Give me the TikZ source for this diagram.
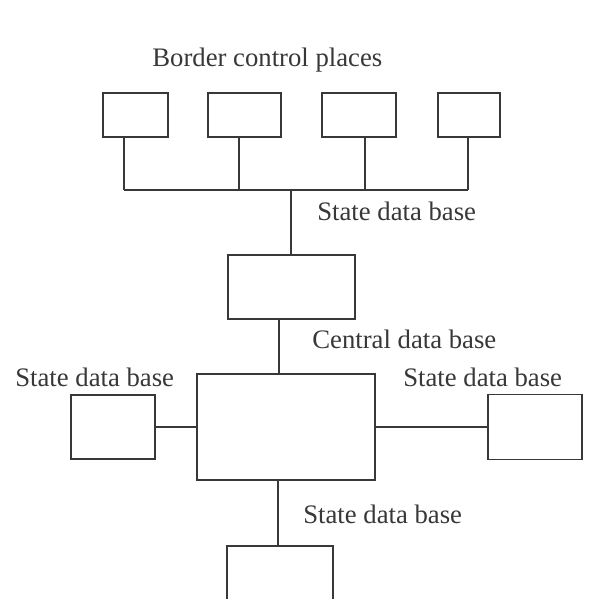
\documentclass[tikz,border=0pt]{standalone}
\usepackage{fontspec}
\setmainfont{Liberation Serif}
\definecolor{ink}{gray}{0.22}
\tikzstyle{place} = [rectangle, draw=ink, line width=1.1pt, inner sep=0pt, minimum height=0.88cm]
\tikzstyle{database} = [rectangle, draw=ink, line width=1.1pt, inner sep=0pt]
\tikzstyle{dbtext} = [anchor=base west, inner sep=0pt, text=ink, font=\fontsize{15.2}{18}\selectfont]
\tikzstyle{line} = [draw=ink, line width=1.1pt]
\begin{document}
\begin{tikzpicture}[x=0.02cm,y=-0.02cm]

\clip (0,0) rectangle (604,598);
\fill[white] (0,0) rectangle (604,598);

	%Border control places on top
	\node[place, minimum width=1.30cm](BCP1) at (135.5,115) {};
	\node[place, minimum width=1.46cm](BCP2) at (244.5,115) {};
	\node[place, minimum width=1.48cm](BCP3) at (359,115) {};
	\node[place, minimum width=1.24cm](BCP4) at (469,115) {};

	%Data bases
	\node[database, minimum width=2.54cm, minimum height=1.28cm](Top) at (291.5,287) {};
	\node[database, minimum width=3.56cm, minimum height=2.12cm](Central) at (286,427) {};
	\node[database, minimum width=1.68cm, minimum height=1.28cm](West) at (113,427) {};
	\node[database, minimum width=1.88cm, minimum height=1.30cm](East) at (535,427) {};
	\node[database, minimum width=2.12cm, minimum height=1.88cm](South) at (280,593) {};

	%Bus below the border control places
	\coordinate (B1) at (124,190);
	\coordinate (B2) at (239,190);
	\coordinate (B3) at (365,190);
	\coordinate (B4) at (468,190);
	\coordinate (B0) at (291,190);
	\path[line] (B1) -- (B4);
	\path[line] (B1 |- BCP1.south) -- (B1);
	\path[line] (B2 |- BCP2.south) -- (B2);
	\path[line] (B3 |- BCP3.south) -- (B3);
	\path[line] (B4 |- BCP4.south) -- (B4);
	\path[line] (B0) -- (B0 |- Top.north);

	%Connections of the central data base
	\coordinate (C1) at (279,0);
	\coordinate (C2) at (278,0);
	\path[line] (C1 |- Top.south) -- (C1 |- Central.north);
	\path[line] (West.east) -- (Central.west);
	\path[line] (Central.east) -- (East.west);
	\path[line] (C2 |- Central.south) -- (C2 |- South.north);

	%Texts
	\node[dbtext](BCPText) at (152,67) {Border control places};
	\node[dbtext](TopText) at (317,220) {State data base};
	\node[dbtext](CentralText) at (312,348) {Central data base};
	\node[dbtext](WestText) at (15,386) {State data base};
	\node[dbtext](EastText) at (403,386) {State data base};
	\node[dbtext](SouthText) at (303,523) {State data base};
\end{tikzpicture}
\end{document}
